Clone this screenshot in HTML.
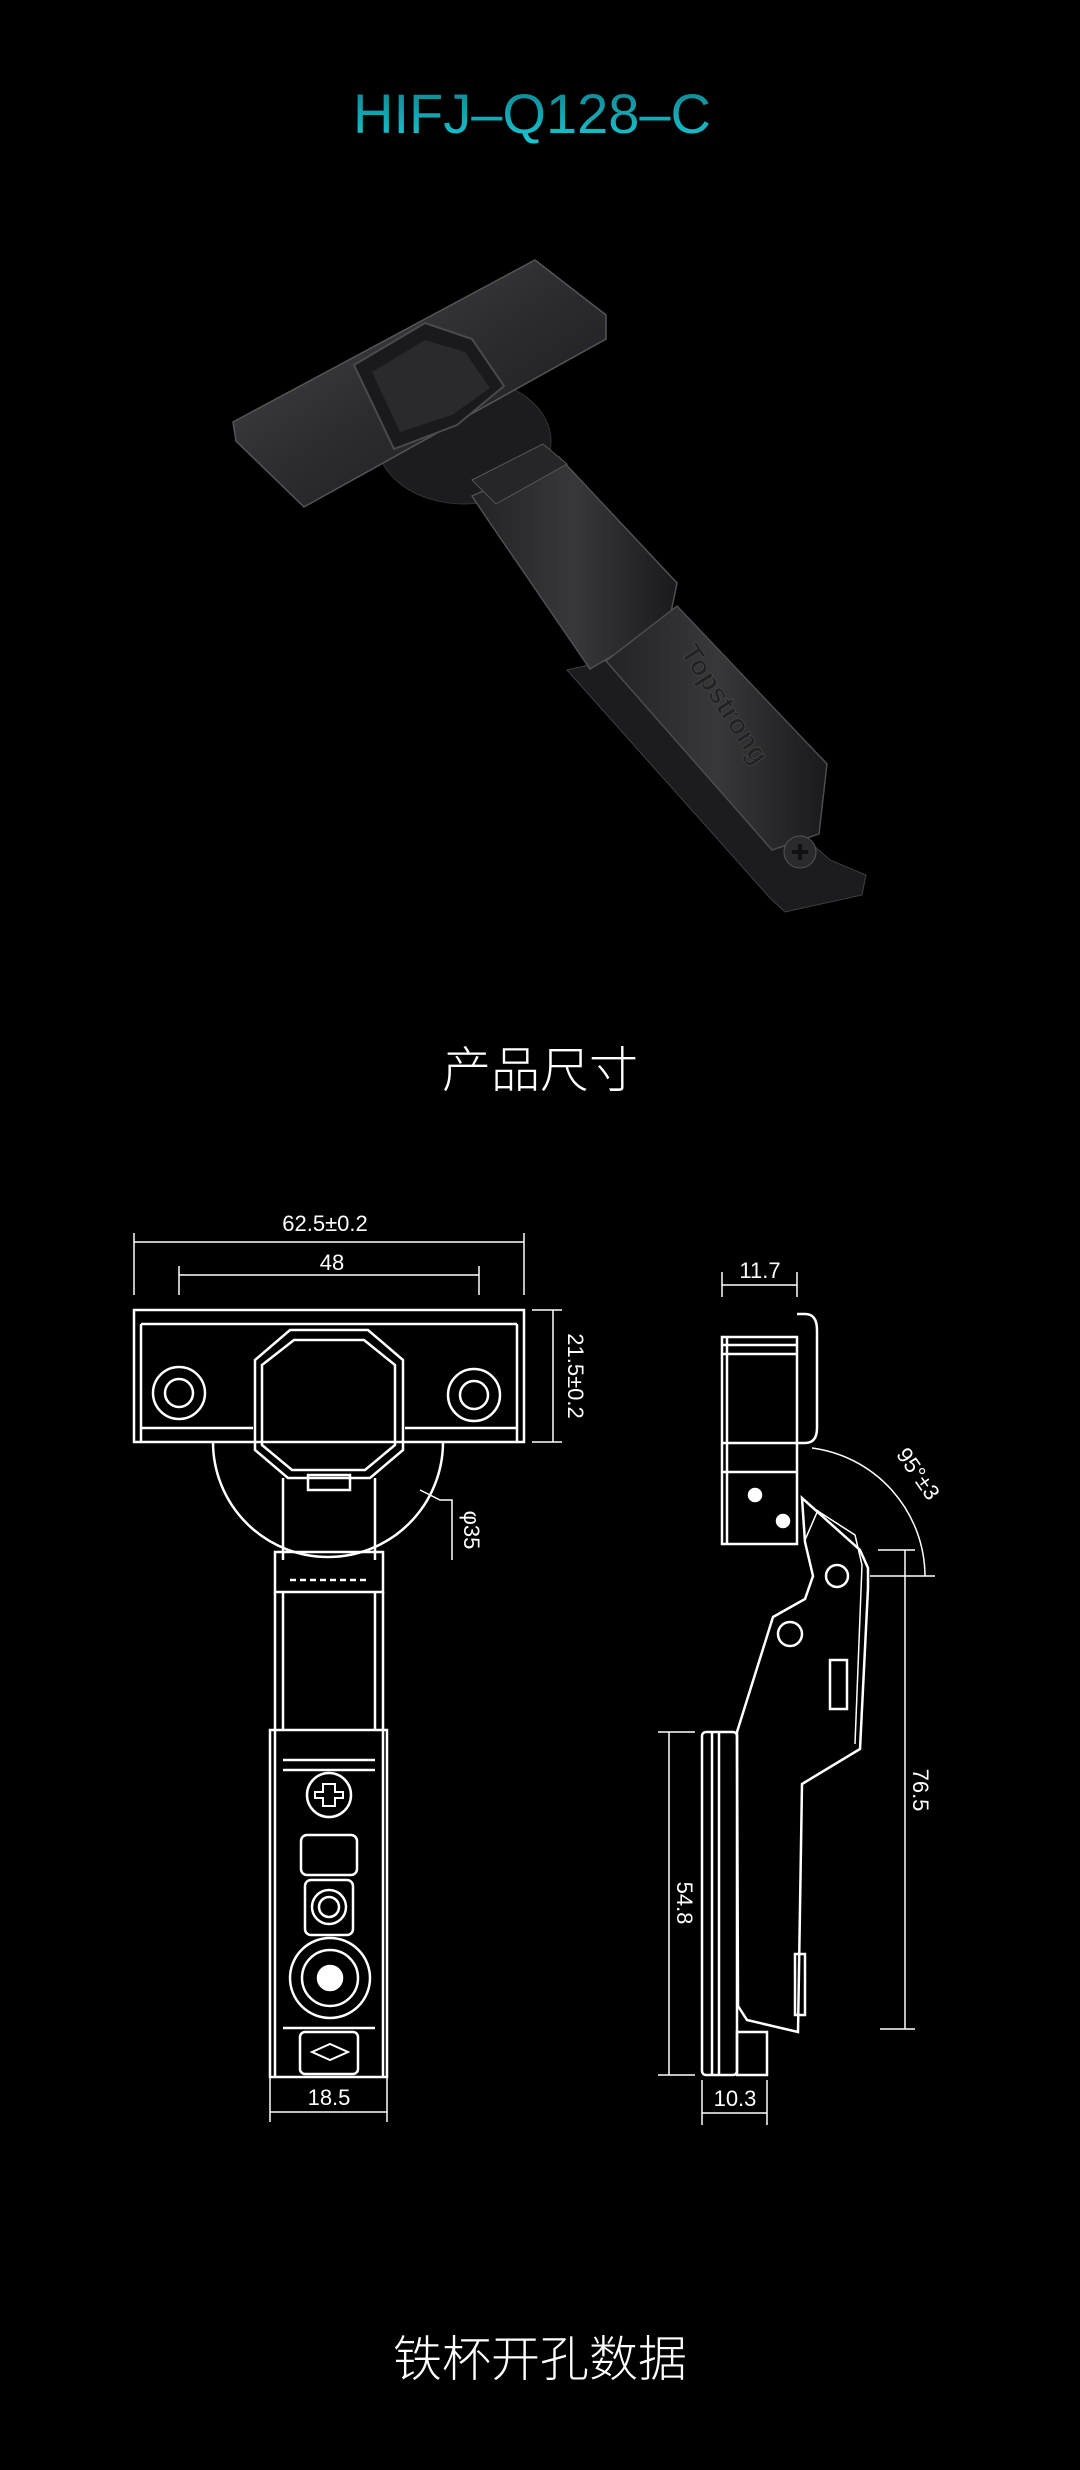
<!DOCTYPE html>
<html><head><meta charset="utf-8"><style>
html,body{margin:0;padding:0;background:#000;}
body{width:1080px;height:2470px;overflow:hidden;}
svg{display:block}
</style></head><body>
<svg width="1080" height="2470" viewBox="0 0 1080 2470" xmlns="http://www.w3.org/2000/svg">
<defs>
<linearGradient id="tg" x1="0" y1="0" x2="0" y2="1"><stop offset="0" stop-color="#0f7f8c"/><stop offset="1" stop-color="#18c9d6"/></linearGradient>
<linearGradient id="mg" x1="0" y1="0" x2="1" y2="1"><stop offset="0" stop-color="#4a4a4e"/><stop offset="0.5" stop-color="#2c2c30"/><stop offset="1" stop-color="#18181b"/></linearGradient>
<linearGradient id="mg2" x1="0" y1="0" x2="1" y2="0"><stop offset="0" stop-color="#232326"/><stop offset="0.5" stop-color="#38383c"/><stop offset="1" stop-color="#1a1a1d"/></linearGradient>
</defs>
<rect width="1080" height="2470" fill="#000"/>
<text x="532" y="133" text-anchor="middle" font-family="Liberation Sans, sans-serif" font-size="56" fill="url(#tg)">HIFJ–Q128–C</text>

<!-- product photo -->
<g>
<ellipse cx="464" cy="441" rx="87" ry="63" fill="#1c1c1f" stroke="#333"/>
<polygon points="233,422 535,260 606,315 606,339 304,507 236,441" fill="url(#mg)" stroke="#555" stroke-width="1.5"/>
<polygon points="354,365 425,323 472,339 504,386 457,425 394,449" fill="#1a1a1d" stroke="#4a4a4e" stroke-width="2"/>
<polygon points="372,372 425,340 465,352 490,388 452,415 400,432" fill="#2a2a2e"/>
<polygon points="567,670 606,661 830,860 866,875 862,895 785,912 770,898" fill="#1c1c1f" stroke="#3e3e42"/>
<polygon points="472,496 559,457 677,583 669,622 590,669 488,520" fill="url(#mg2)" stroke="#505054" stroke-width="1.5"/>
<polygon points="472,480 543,444 567,464 496,504" fill="#262629" stroke="#555"/>
<polygon points="606,661 677,606 827,764 819,834 772,850" fill="url(#mg2)" stroke="#4c4c50" stroke-width="1.5"/>
<text x="0" y="0" transform="translate(680,652) rotate(57)" font-family="Liberation Sans, sans-serif" font-weight="bold" font-size="28" fill="#222" stroke="#444" stroke-width="0.8">Topstrong</text>
<circle cx="800" cy="852" r="16" fill="#2a2a2e" stroke="#555"/>
<path d="M792 852h16M800 844v16" stroke="#111" stroke-width="4"/>
</g>

<text x="540" y="1087" text-anchor="middle" font-family="Liberation Sans, 'Noto Sans CJK SC', sans-serif" font-size="49" fill="#fff" font-weight="300">产品尺寸</text>

<g fill="none" stroke="#fff" stroke-width="2.5">
<!-- front view dims -->
<line x1="134" y1="1233" x2="134" y2="1295" stroke-width="1.5"/>
<line x1="524" y1="1233" x2="524" y2="1295" stroke-width="1.5"/>
<line x1="134" y1="1242" x2="524" y2="1242" stroke-width="1.5"/>
<line x1="179" y1="1266" x2="179" y2="1295" stroke-width="1.5"/>
<line x1="479" y1="1266" x2="479" y2="1295" stroke-width="1.5"/>
<line x1="179" y1="1275" x2="479" y2="1275" stroke-width="1.5"/>
<line x1="532" y1="1310" x2="562" y2="1310" stroke-width="1.5"/>
<line x1="532" y1="1442" x2="562" y2="1442" stroke-width="1.5"/>
<line x1="553" y1="1310" x2="553" y2="1442" stroke-width="1.5"/>
<rect x="134" y="1310" width="390" height="132"/>
<line x1="141" y1="1324" x2="517" y2="1324"/>
<line x1="141" y1="1428" x2="253" y2="1428"/>
<line x1="405" y1="1428" x2="517" y2="1428"/>
<line x1="141" y1="1324" x2="141" y2="1442"/>
<line x1="517" y1="1324" x2="517" y2="1442"/>
<circle cx="179" cy="1393" r="26"/><circle cx="179" cy="1393" r="14"/>
<circle cx="474" cy="1395" r="26"/><circle cx="474" cy="1395" r="14"/>
<path d="M213 1442 A115 115 0 0 0 443 1442"/>
<path d="M420 1490 L440 1500 L452 1500 L452 1560" stroke-width="1.5"/>
<polygon points="290,1330 368,1330 403,1360 403,1450 370,1478 288,1478 255,1450 255,1360"/>
<polygon points="294,1340 364,1340 395,1365 395,1445 365,1470 292,1470 262,1445 262,1365"/>
<rect x="308" y="1475" width="42" height="15"/>
<line x1="283" y1="1478" x2="283" y2="1560"/>
<line x1="375" y1="1478" x2="375" y2="1560"/>
<rect x="275" y="1552" width="108" height="40"/>
<line x1="290" y1="1580" x2="368" y2="1580" stroke-dasharray="6 4"/>
<line x1="275" y1="1592" x2="275" y2="2077"/>
<line x1="383" y1="1592" x2="383" y2="2077"/>
<line x1="283" y1="1592" x2="283" y2="1730"/>
<line x1="375" y1="1592" x2="375" y2="1730"/>
<rect x="270" y="1730" width="117" height="347"/>
<line x1="283" y1="1760" x2="375" y2="1760"/>
<line x1="283" y1="1770" x2="375" y2="1770"/>
<circle cx="329" cy="1795" r="22"/>
<path d="M323 1784h12v8h8v6h-8v8h-12v-8h-8v-6h8z" stroke-width="2"/>
<rect x="301" y="1835" width="56" height="40" rx="6"/>
<rect x="305" y="1880" width="48" height="55" rx="6"/>
<circle cx="329" cy="1907" r="17"/><circle cx="329" cy="1907" r="10"/>
<circle cx="330" cy="1978" r="40"/><circle cx="330" cy="1978" r="28"/>
<circle cx="330" cy="1978" r="12" fill="#fff"/>
<line x1="283" y1="2028" x2="375" y2="2028"/>
<rect x="300" y="2032" width="58" height="42" rx="5"/>
<path d="M312 2052 L330 2044 L348 2052 L330 2060 Z" stroke-width="2"/>
<line x1="270" y1="2068" x2="270" y2="2122" stroke-width="1.5"/>
<line x1="387" y1="2068" x2="387" y2="2122" stroke-width="1.5"/>
<line x1="270" y1="2112" x2="387" y2="2112" stroke-width="1.5"/>

<!-- side view -->
<line x1="722" y1="1272" x2="722" y2="1297" stroke-width="1.5"/>
<line x1="797" y1="1272" x2="797" y2="1297" stroke-width="1.5"/>
<line x1="722" y1="1285" x2="797" y2="1285" stroke-width="1.5"/>
<rect x="722" y="1337" width="75" height="207"/>
<line x1="727" y1="1337" x2="727" y2="1544"/>
<line x1="722" y1="1345" x2="797" y2="1345"/>
<line x1="722" y1="1354" x2="797" y2="1354"/>
<line x1="722" y1="1443" x2="797" y2="1443"/>
<line x1="722" y1="1472" x2="797" y2="1472"/>
<path d="M797 1314 H805 Q817 1314 817 1330 V1428 Q817 1443 805 1443 H797"/>
<circle cx="755" cy="1495" r="6" fill="#fff"/>
<circle cx="783" cy="1521" r="6" fill="#fff"/>
<path d="M812 1448 A130 130 0 0 1 925 1576" stroke-width="1.5"/>
<polygon points="737,1732 773,1617 805,1599 813,1576 805,1542 802,1498 860,1550 868,1568 868,1588 860,1749 802,1784 798,2032 747,2020 738,2006"/>
<polyline points="810,1506 855,1535 862,1565 855,1744" stroke-width="1.5"/>
<line x1="818" y1="1510" x2="805" y2="1540" stroke-width="1.5"/>
<circle cx="837" cy="1576" r="11"/>
<circle cx="790" cy="1634" r="12"/>
<rect x="830" y="1660" width="17" height="49"/>
<rect x="702" y="1732" width="35" height="343" rx="4"/>
<line x1="712" y1="1732" x2="712" y2="2075"/>
<line x1="719" y1="1732" x2="719" y2="2075"/>
<rect x="737" y="2032" width="30" height="43"/>
<rect x="795" y="1954" width="10" height="61"/>
<line x1="878" y1="1550" x2="915" y2="1550" stroke-width="1.5"/>
<line x1="870" y1="1576" x2="935" y2="1576" stroke-width="1.5"/>
<line x1="880" y1="2029" x2="915" y2="2029" stroke-width="1.5"/>
<line x1="905" y1="1550" x2="905" y2="2029" stroke-width="1.5"/>
<line x1="658" y1="1732" x2="695" y2="1732" stroke-width="1.5"/>
<line x1="658" y1="2075" x2="695" y2="2075" stroke-width="1.5"/>
<line x1="669" y1="1732" x2="669" y2="2075" stroke-width="1.5"/>
<line x1="702" y1="2080" x2="702" y2="2125" stroke-width="1.5"/>
<line x1="767" y1="2080" x2="767" y2="2125" stroke-width="1.5"/>
<line x1="702" y1="2113" x2="767" y2="2113" stroke-width="1.5"/>
</g>

<g font-family="Liberation Sans, sans-serif" font-size="22" fill="#fff">
<text x="325" y="1231" text-anchor="middle">62.5±0.2</text>
<text x="332" y="1270" text-anchor="middle">48</text>
<text transform="translate(568,1376) rotate(90)" text-anchor="middle">21.5±0.2</text>
<text transform="translate(464,1530) rotate(90)" text-anchor="middle">φ35</text>
<text x="329" y="2105" text-anchor="middle">18.5</text>
<text x="760" y="1278" text-anchor="middle">11.7</text>
<text transform="translate(912,1478) rotate(55)" text-anchor="middle">95°±3</text>
<text transform="translate(913,1790) rotate(90)" text-anchor="middle">76.5</text>
<text transform="translate(677,1903) rotate(90)" text-anchor="middle">54.8</text>
<text x="735" y="2106" text-anchor="middle">10.3</text>
</g>

<text x="540" y="2376" text-anchor="middle" font-family="Liberation Sans, 'Noto Sans CJK SC', sans-serif" font-size="49" fill="#fff" font-weight="300">铁杯开孔数据</text>
</svg>
</body></html>
